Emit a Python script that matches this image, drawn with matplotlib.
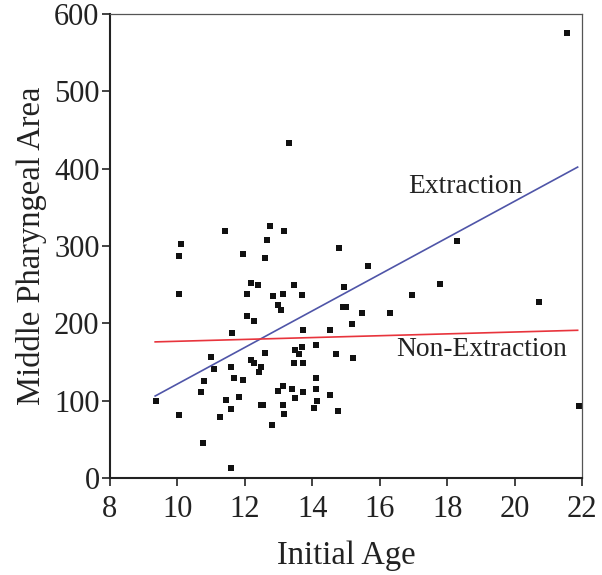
import matplotlib
matplotlib.use("Agg")
import matplotlib.pyplot as plt

plt.rcParams['font.family'] = ['Liberation Serif', 'DejaVu Serif']

initial_age = [13.31, 12.75, 11.40, 13.17, 10.10, 12.66, 14.79, 10.05, 11.95, 12.61,
               15.64, 12.18, 12.38, 13.45, 14.94, 12.05, 10.05, 12.84, 13.12, 13.69,
               16.95, 12.97, 13.07, 12.05, 12.28, 14.90, 14.99, 15.47, 16.30, 15.18,
               13.73, 14.53, 11.63, 12.61, 13.50, 13.69, 14.10, 13.60, 14.71, 15.22,
               10.99, 12.18, 12.28, 11.08, 11.59, 12.48, 12.43, 13.45, 13.73, 10.80,
               11.68, 11.95, 14.10, 13.12, 10.70, 12.97, 13.40, 13.73, 14.10, 11.82,
               11.44, 9.36, 12.48, 12.53, 13.50, 14.53, 14.15, 10.05, 11.59, 11.25,
               13.12, 14.05, 14.75, 13.17, 12.80, 10.75, 11.59, 21.56, 18.30, 17.79,
               20.72, 21.90]
pharyngeal_area = [433, 326, 319, 319, 302, 308, 298, 287, 289, 284,
                   274, 252, 249, 249, 247, 238, 238, 235, 238, 236,
                   236, 224, 217, 209, 203, 221, 221, 213, 213, 199,
                   192, 192, 187, 162, 165, 169, 172, 160, 160, 155,
                   156, 152, 149, 141, 143, 143, 137, 149, 149, 125,
                   129, 127, 129, 119, 111, 113, 115, 111, 115, 105,
                   101, 99, 95, 95, 103, 107, 99, 81, 89, 79,
                   95, 91, 87, 83, 69, 45, 13, 575, 307, 251,
                   228, 93]

extraction_x = [9.34, 21.87]
extraction_y = [106, 402]
nonextraction_x = [9.34, 21.87]
nonextraction_y = [176, 191]

x_ticks = [8, 10, 12, 14, 16, 18, 20, 22]
y_ticks = [0, 100, 200, 300, 400, 500, 600]

fig = plt.figure(figsize=(6.02, 5.75), dpi=100)
ax = fig.add_axes([0.1827, 0.1687, 0.7841, 0.807])

ax.plot(initial_age, pharyngeal_area, linestyle='none', marker='s',
        markersize=4.1, color='#111111', markeredgewidth=0)
ax.plot(extraction_x, extraction_y, color='#4f55a8', linewidth=1.2)
ax.plot(nonextraction_x, nonextraction_y, color='#e8343c', linewidth=1.2)

ax.text(18.53, 377, 'Extraction', fontsize=19.8, ha='center', va='center', color='#222222')
ax.text(19.03, 166, 'Non-Extraction', fontsize=19.8, ha='center', va='center', color='#222222')

ax.set_xlim(8, 22)
ax.set_ylim(0, 600)
ax.set_xticks(x_ticks)
ax.set_yticks(y_ticks)
ax.tick_params(axis='both', direction='out', length=6, width=1.2, labelsize=22,
               colors='#222222')
ax.tick_params(axis='x', pad=6)
ax.tick_params(axis='y', pad=1.5)
for s in ['left', 'bottom']:
    ax.spines[s].set_linewidth(1.5)
    ax.spines[s].set_color('#222222')
for s in ['top', 'right']:
    ax.spines[s].set_linewidth(0.9)
    ax.spines[s].set_color('#555555')

ax.set_xlabel('Initial Age', fontsize=23.5, color='#222222', labelpad=12)
ax.set_ylabel('Middle Pharyngeal Area', fontsize=23.5, color='#222222', labelpad=5)

fig.savefig('out.png', dpi=100)
